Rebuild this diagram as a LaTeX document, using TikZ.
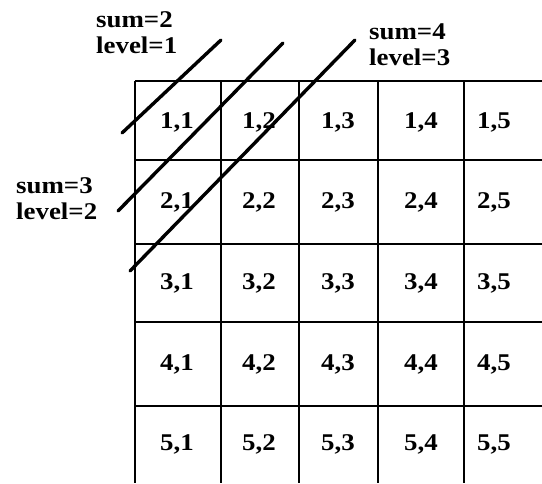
\documentclass[tikz,border=0pt]{standalone}
\usepackage{fontspec}
\setmainfont[FakeStretch=1.12]{Liberation Serif}
\usetikzlibrary{positioning}

\begin{document}
\begin{tikzpicture}[x=1pt, y=-1pt,
  every node/.style={font=\fontsize{24}{26}\selectfont\bfseries},
  gridline/.style={line width=2.3pt},
  diag/.style={line width=3.4pt, line cap=round},
  lbl/.style={align=left, inner sep=0pt, anchor=north west}
]
\useasboundingbox (0,0) rectangle (542,483);

%% Grid -- open to the right and at the bottom.
\foreach \y in {81,160,244,322,406} {
  \draw[gridline] (135,\y) -- (542,\y);
}
\foreach \x in {135,221,299,378,464} {
  \draw[gridline] (\x,81) -- (\x,483);
}

%% Cell entries (row,column).
\foreach \r/\yy in {1/122,2/202,3/283,4/364,5/444} {
  \foreach \c/\xx in {1/177,2/259,3/338,4/421,5/494} {
    \node (c\r\c) at (\xx,\yy) {\r,\c};
  }
}

%% Anti-diagonals and their labels.
\coordinate (s2lo) at (122,133);
\coordinate (s2hi) at (221,40);
\coordinate (s3lo) at (118,211);
\coordinate (s3hi) at (283,43);
\coordinate (s4lo) at (130,271);
\coordinate (s4hi) at (355,40);
\draw[diag] (s2lo) -- (s2hi);
\draw[diag] (s3lo) -- (s3hi);
\draw[diag] (s4lo) -- (s4hi);

\node[lbl] (lev1) at (96,11) {sum=2\\level=1};
\node[lbl] (lev2) at (16,177) {sum=3\\level=2};
\node[lbl] (lev3) at (369,23) {sum=4\\level=3};
\end{tikzpicture}
\end{document}
